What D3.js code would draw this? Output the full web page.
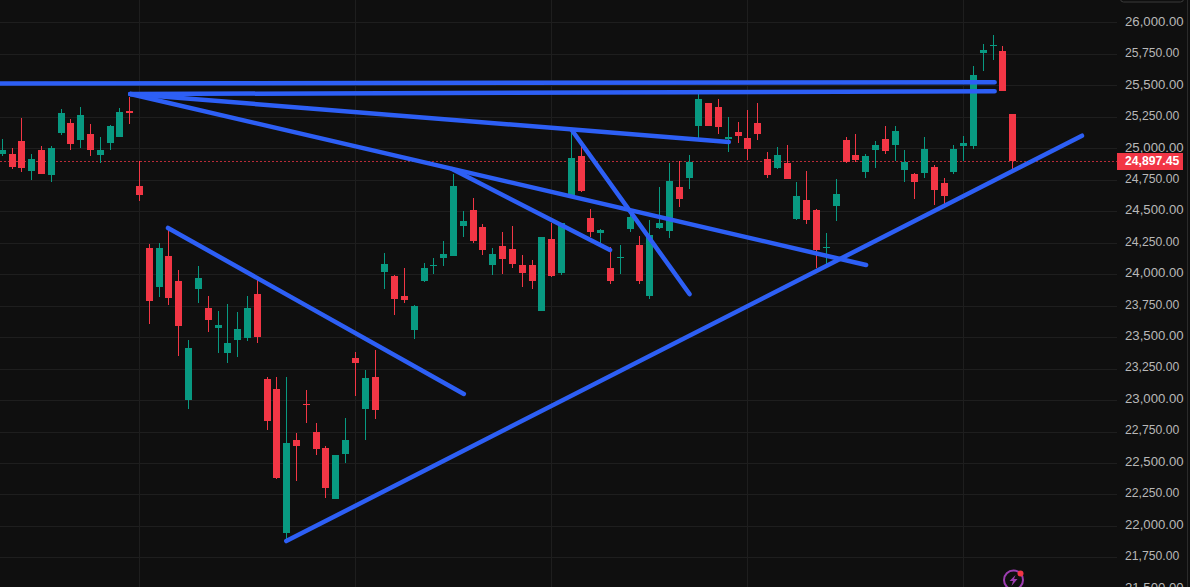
<!DOCTYPE html>
<html>
<head>
<meta charset="utf-8">
<script src="https://cdn.jsdelivr.net/npm/d3@7/dist/d3.min.js"></script>
<style>
html,body{margin:0;padding:0;background:#0f0f0f;overflow:hidden}
svg{display:block}
</style>
</head>
<body>
<div id="chart"></div>
<script>
const opens=[24955,24955,25058,24820,24986,24788,25121,25201,25066,25114,24947,25042,25090,25296,24700,24208,23898,24144,23946,23000,23882,23731,23572,23374,23477,23493,23842,23167,23088,21944,22683,22969,22746,22619,22214,22571,23334,22929,23183,24017,23985,23827,23556,23946,24065,24128,24144,24383,24510,24375,24073,24224,24200,24073,24073,23707,24279,24009,24629,24939,24446,24327,24049,24128,24359,24232,23827,24367,24343,24692,24764,25177,25360,25328,25074,25129,25082,25201,24915,24843,24883,24438,24589,24510,24208,24542,25066,24947,24812,24986,25074,25026,24828,24796,24804,24851,24724,24812,25018,25018,25757,25813,25773,25272];
const highs=[25074,25000,25238,24955,25018,25018,25312,25230,25328,25193,25087,25185,25320,25410,24899,24240,24248,24375,24033,23477,24065,23827,23707,23763,23699,23827,23962,23183,23183,23183,22738,23080,22818,22635,22563,22857,23382,23239,23398,24168,23993,24049,23755,24089,24128,24264,24796,24502,24605,24399,24208,24335,24383,24152,24113,24295,24406,24406,25145,25010,24518,24359,24216,24232,24510,24303,24430,24692,24883,24899,24947,25431,25360,25392,25249,25209,25304,25360,24971,25010,25026,24732,24820,24518,24327,24756,25090,25114,24955,25058,25177,25177,24986,24804,25090,24867,24764,25026,25098,25654,25828,25900,25813,25272];
const lows=[24939,24835,24812,24748,24796,24732,25106,24986,25002,24939,24883,24986,25090,25193,24581,23604,23819,23755,23350,22929,23771,23541,23374,23294,23342,23469,23453,22762,22373,21888,22357,22818,22563,22222,22214,22500,23032,22683,22849,23882,23676,23771,23485,23938,24001,24065,24144,24295,24248,24152,23993,24001,24049,23898,23882,23707,23978,23993,24629,24653,24295,24224,23922,24001,24335,23922,23803,24359,24287,24534,24677,25074,25177,25114,24971,25042,24907,25066,24764,24835,24756,24430,24399,24049,24081,24422,24883,24891,24764,24843,24955,24899,24732,24597,24764,24549,24557,24796,24899,24994,25614,25701,25455,24835];
const closes=[24986,24849,24843,24915,24796,25002,25280,25034,25264,24986,24986,25177,25288,25280,24629,23787,24208,23811,23588,23413,23970,23636,23596,23453,23564,23731,23501,22834,22381,22659,22635,22961,22611,22301,22563,22683,23294,23175,22921,24081,23803,23795,23747,24049,24073,24160,24700,24422,24264,24192,24160,24120,24081,24009,23946,24295,23985,24406,24923,24661,24335,24351,23946,24136,24454,23946,24311,24406,24740,24597,24891,25392,25177,25169,25090,25098,24994,25114,24788,24947,24756,24621,24430,24192,24216,24637,24891,24907,24939,25026,24978,25137,24891,24732,24994,24669,24621,24994,25042,25582,25781,25821,25455,24897.45];
const gridBars=[14,36,56,76,98];
const priceTicks=[26000,25750,25500,25250,25000,24750,24500,24250,24000,23750,23500,23250,23000,22750,22500,22250,22000,21750,21500];
const lastPrice=24897.45;
const trendStart=[[-1,25515],[13,25431],[13,25431],[13,25431],[45.8,24835],[58,25145],[16.85,24367],[28.9,21880]];
const trendEnd=[[101.1,25524],[101.1,25453],[74,25050],[88,24073],[61.9,24192],[70,23842],[47,23048],[110,25100]];

const W=1190,H=587,plotR=1117;
const x=d3.scaleLinear().domain([0,103]).range([2.7,1013.3]);
const y=d3.scaleLinear().domain([26000,21750]).range([22.4,557.4]);
const UP="#089981",DOWN="#f23645",LINE="#2d5ff5",GRID="#1e1e1e";

const svg=d3.select("#chart").append("svg").attr("width",W).attr("height",H);
svg.append("rect").attr("width",W).attr("height",H).attr("fill","#0f0f0f");

const px=v=>Math.round(y(v));
// grid
svg.append("g").selectAll("line").data(priceTicks).join("line")
  .attr("x1",0).attr("x2",plotR).attr("y1",d=>px(d)+.5).attr("y2",d=>px(d)+.5)
  .attr("stroke",GRID);
svg.append("g").selectAll("line").data(gridBars).join("line")
  .attr("x1",d=>Math.round(x(d))-.5).attr("x2",d=>Math.round(x(d))-.5).attr("y1",0).attr("y2",H)
  .attr("stroke",GRID);
// last price line
svg.append("line").attr("x1",0).attr("x2",plotR).attr("y1",px(lastPrice)+.5).attr("y2",px(lastPrice)+.5)
  .attr("stroke",DOWN).attr("stroke-opacity",.75).attr("stroke-dasharray","2 2");
// candles
const idx=d3.range(opens.length);
const col=i=>closes[i]>=opens[i]?UP:DOWN;
const c=svg.append("g").attr("shape-rendering","crispEdges");
c.selectAll("rect.w").data(idx).join("rect").attr("class","w")
  .attr("x",i=>Math.round(x(i))-1).attr("width",1)
  .attr("y",i=>px(highs[i])).attr("height",i=>Math.max(1,px(lows[i])-px(highs[i])))
  .attr("fill",col);
c.selectAll("rect.b").data(idx).join("rect").attr("class","b")
  .attr("x",i=>Math.round(x(i))-4).attr("width",7)
  .attr("y",i=>px(Math.max(opens[i],closes[i])))
  .attr("height",i=>Math.max(1,px(Math.min(opens[i],closes[i]))-px(Math.max(opens[i],closes[i]))))
  .attr("fill",col);
// trend lines
svg.append("g").selectAll("line").data(trendStart.map((s,i)=>[s,trendEnd[i]])).join("line")
  .attr("x1",d=>x(d[0][0])).attr("y1",d=>y(d[0][1]))
  .attr("x2",d=>x(d[1][0])).attr("y2",d=>y(d[1][1]))
  .attr("stroke",LINE).attr("stroke-width",4.5).attr("stroke-linecap","round");
// price axis
const axis=d3.axisRight(y).tickValues(priceTicks).tickSize(0).tickPadding(0).tickFormat(d3.format(",.2f"));
const ax=svg.append("g").attr("transform",`translate(1125,0)`).call(axis);
ax.select(".domain").remove();
ax.selectAll("text")
  .attr("y",-1.5)
  .attr("fill","#b8b8b8")
  .attr("font-family","'Liberation Sans',Arial,sans-serif")
  .attr("font-size",(d,i)=>i%2?12.2:13.2)
  .attr("font-weight",500);
// last price tag
svg.append("rect").attr("x",1117).attr("y",153).attr("width",66).attr("height",17).attr("fill",DOWN);
svg.append("text").attr("x",1125).attr("y",y(lastPrice)+4)
  .attr("fill","#fff").attr("font-family","'Liberation Sans',Arial,sans-serif").attr("font-size",12.2).attr("font-weight",700)
  .text(d3.format(",.2f")(lastPrice));
// scale edge and top control
svg.append("line").attr("x1",1187.5).attr("x2",1187.5).attr("y1",0).attr("y2",H).attr("stroke","#2a2a2a");
svg.append("rect").attr("x",1120.5).attr("y",-20).attr("width",63).attr("height",22).attr("rx",3)
  .attr("fill","none").attr("stroke","#3a3a3a");
// bolt badge
const badge=svg.append("g").attr("transform","translate(1013.5,580)");
badge.append("circle").attr("r",9.5).attr("fill","none").attr("stroke","#9c3db0").attr("stroke-width",2);
badge.append("path").attr("d","M2,-5 L-4,1 L-0.5,1 L-2,6 L4,-1 L0.5,-1 Z").attr("fill","#9c3db0");
svg.append("circle").attr("cx",1020.5).attr("cy",573.5).attr("r",3).attr("fill","#f23645");
</script>
</body>
</html>
